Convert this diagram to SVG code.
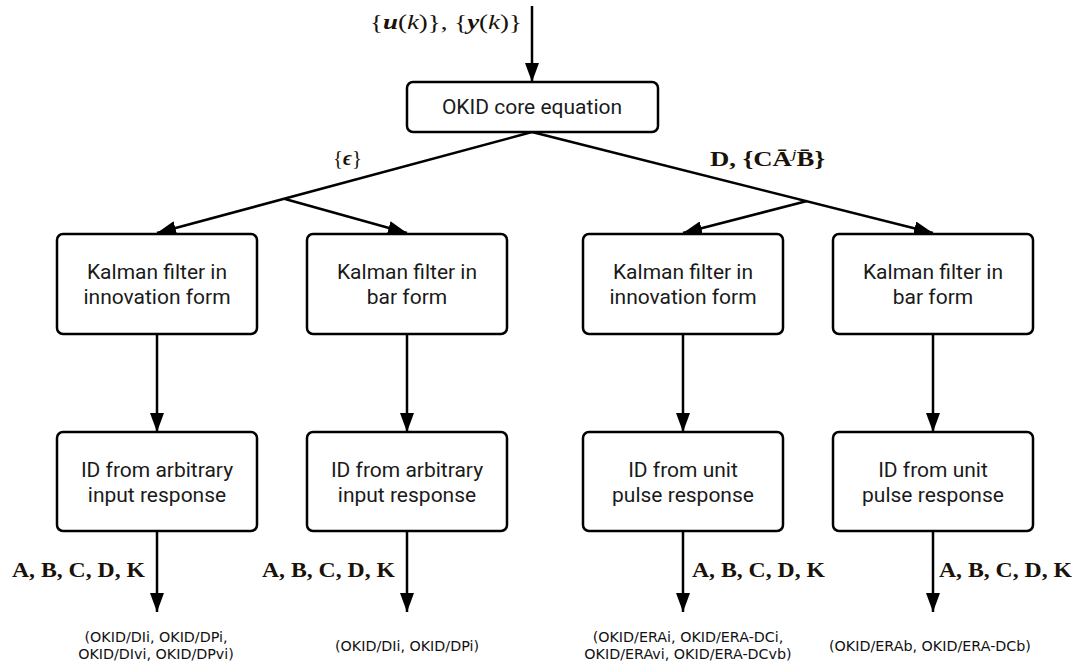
<svg xmlns="http://www.w3.org/2000/svg" width="1074" height="666" viewBox="0 0 1074 666">
  <style>
    .box { fill: #ffffff; stroke: #000000; stroke-width: 2.5; }
    .edge { fill: none; stroke: #000000; stroke-width: 2.5; }
    .lbl { font-family: Roboto, "Open Sans", "DejaVu Sans", sans-serif; font-size: 21px; fill: #1a1a1a; text-anchor: middle; }
    .math { font-family: "Liberation Serif", "DejaVu Serif", serif; font-size: 20px; fill: #1a1208; }
    .mb { font-weight: bold; }
    .mi { font-style: italic; }
    .note { font-family: "DejaVu Sans", "Liberation Sans", sans-serif; font-size: 14.3px; fill: #111111; text-anchor: middle; }
  </style>
  <defs>
    <marker id="arrow" markerUnits="userSpaceOnUse" markerWidth="19" markerHeight="14" refX="19" refY="7" orient="auto">
      <path d="M0,0 L19,7 L0,14 z" fill="#000000"/>
    </marker>
  </defs>
  <rect width="1074" height="666" fill="#ffffff"/>

  <!-- connectors -->
  <g id="connectors">
    <line class="edge" x1="532" y1="6" x2="532" y2="82" marker-end="url(#arrow)"/>
    <!-- left split: {eps} -->
    <line class="edge" x1="532" y1="132" x2="157" y2="233" marker-end="url(#arrow)"/>
    <line class="edge" x1="285" y1="199" x2="407" y2="233" marker-end="url(#arrow)"/>
    <!-- right split: D, {C A^j B} -->
    <line class="edge" x1="532" y1="132" x2="933" y2="233" marker-end="url(#arrow)"/>
    <line class="edge" x1="807" y1="201" x2="683" y2="233" marker-end="url(#arrow)"/>
    <!-- filter to identification -->
    <line class="edge" x1="157" y1="334" x2="157" y2="432" marker-end="url(#arrow)"/>
    <line class="edge" x1="407" y1="334" x2="407" y2="432" marker-end="url(#arrow)"/>
    <line class="edge" x1="683" y1="334" x2="683" y2="432" marker-end="url(#arrow)"/>
    <line class="edge" x1="933" y1="334" x2="933" y2="432" marker-end="url(#arrow)"/>
    <!-- identified outputs -->
    <line class="edge" x1="157" y1="531" x2="157" y2="612" marker-end="url(#arrow)"/>
    <line class="edge" x1="407" y1="531" x2="407" y2="612" marker-end="url(#arrow)"/>
    <line class="edge" x1="683" y1="531" x2="683" y2="612" marker-end="url(#arrow)"/>
    <line class="edge" x1="933" y1="531" x2="933" y2="612" marker-end="url(#arrow)"/>
  </g>

  <!-- edge labels -->
  <g id="edge-labels">
    <text class="math" x="370" y="29" textLength="152" lengthAdjust="spacingAndGlyphs">{<tspan class="mb mi">u</tspan>(<tspan class="mi">k</tspan>)}, {<tspan class="mb mi">y</tspan>(<tspan class="mi">k</tspan>)}</text>
    <text class="math" x="333" y="165" textLength="29" lengthAdjust="spacingAndGlyphs">{<tspan class="mb mi">ϵ</tspan>}</text>
    <text class="math mb" x="710" y="166" textLength="115" lengthAdjust="spacingAndGlyphs">D, {CĀ<tspan class="mi" font-weight="normal" font-size="13" dy="-8">j</tspan><tspan dy="8">B̄</tspan>}</text>
    <text class="math mb" x="12" y="577" textLength="133" lengthAdjust="spacingAndGlyphs">A, B, C, D, K</text>
    <text class="math mb" x="262" y="577" textLength="133" lengthAdjust="spacingAndGlyphs">A, B, C, D, K</text>
    <text class="math mb" x="692" y="577" textLength="133" lengthAdjust="spacingAndGlyphs">A, B, C, D, K</text>
    <text class="math mb" x="939" y="577" textLength="133" lengthAdjust="spacingAndGlyphs">A, B, C, D, K</text>
  </g>

  <g id="okid-core">
    <rect class="box" x="407" y="82" width="251" height="50" rx="6"/>
    <text class="lbl" x="532" y="114">OKID core equation</text>
  </g>

  <g id="kf-innovation-1">
    <rect class="box" x="57" y="234" width="200" height="100" rx="6"/>
    <text class="lbl" x="157" y="279">Kalman filter in<tspan x="157" dy="25">innovation form</tspan></text>
  </g>
  <g id="kf-bar-1">
    <rect class="box" x="307" y="234" width="200" height="100" rx="6"/>
    <text class="lbl" x="407" y="279">Kalman filter in<tspan x="407" dy="25">bar form</tspan></text>
  </g>
  <g id="kf-innovation-2">
    <rect class="box" x="583" y="234" width="200" height="100" rx="6"/>
    <text class="lbl" x="683" y="279">Kalman filter in<tspan x="683" dy="25">innovation form</tspan></text>
  </g>
  <g id="kf-bar-2">
    <rect class="box" x="833" y="234" width="200" height="100" rx="6"/>
    <text class="lbl" x="933" y="279">Kalman filter in<tspan x="933" dy="25">bar form</tspan></text>
  </g>

  <g id="id-arbitrary-1">
    <rect class="box" x="57" y="432" width="200" height="99" rx="6"/>
    <text class="lbl" x="157" y="477">ID from arbitrary<tspan x="157" dy="25">input response</tspan></text>
  </g>
  <g id="id-arbitrary-2">
    <rect class="box" x="307" y="432" width="200" height="99" rx="6"/>
    <text class="lbl" x="407" y="477">ID from arbitrary<tspan x="407" dy="25">input response</tspan></text>
  </g>
  <g id="id-pulse-1">
    <rect class="box" x="583" y="432" width="200" height="99" rx="6"/>
    <text class="lbl" x="683" y="477">ID from unit<tspan x="683" dy="25">pulse response</tspan></text>
  </g>
  <g id="id-pulse-2">
    <rect class="box" x="833" y="432" width="200" height="99" rx="6"/>
    <text class="lbl" x="933" y="477">ID from unit<tspan x="933" dy="25">pulse response</tspan></text>
  </g>

  <!-- algorithm names -->
  <g id="algorithms">
    <text class="note" x="156" y="642">(OKID/DIi, OKID/DPi,<tspan x="156" dy="17">OKID/DIvi, OKID/DPvi)</tspan></text>
    <text class="note" x="407" y="651">(OKID/DIi, OKID/DPi)</text>
    <text class="note" x="688" y="642">(OKID/ERAi, OKID/ERA-DCi,<tspan x="688" dy="17">OKID/ERAvi, OKID/ERA-DCvb)</tspan></text>
    <text class="note" x="930" y="651">(OKID/ERAb, OKID/ERA-DCb)</text>
  </g>
</svg>
